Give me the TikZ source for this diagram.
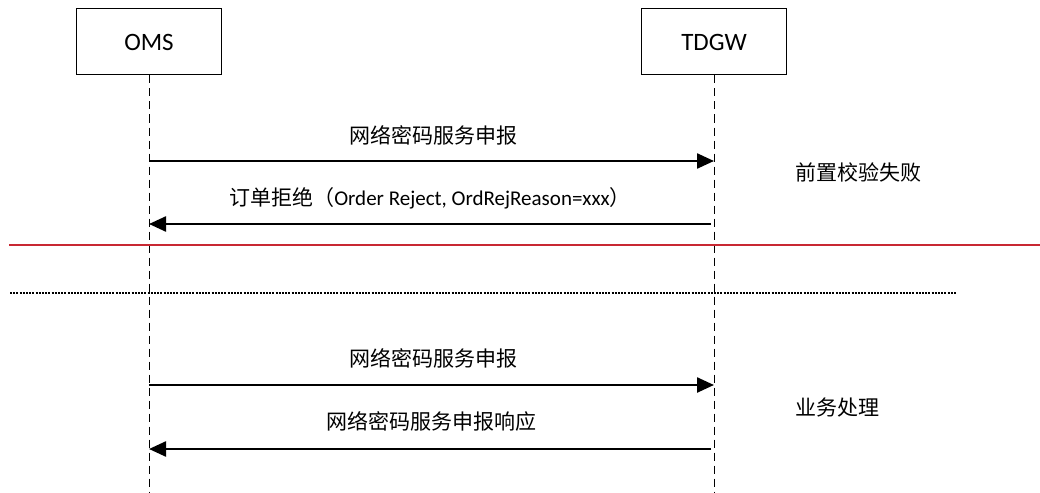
\documentclass[tikz,border=0pt]{standalone}
\usepackage{fontspec}
\setmainfont{Carlito}
\newfontfamily\cjk{Noto Sans CJK SC}
\usetikzlibrary{arrows.meta}
\begin{document}
\begin{tikzpicture}[x=1pt,y=-1pt,
  actor/.style={draw=black,line width=1pt,minimum width=145pt,minimum height=66pt,inner sep=0pt,font=\fontsize{25}{28}\selectfont},
  lifeline/.style={line width=0.9pt,dash pattern=on 8pt off 5pt},
  msg/.style={line width=2.4pt,-{Triangle[length=17pt,width=15pt]}},
  lbl/.style={inner sep=0pt,font=\fontsize{21}{24}\selectfont},
  note/.style={inner sep=0pt,anchor=west,font=\fontsize{21}{24}\selectfont\cjk}
]
\useasboundingbox (0,0) rectangle (1040,492);
\node[actor] (oms) at (149,42) {OMS};
\node[actor] (tdgw) at (714,42) {TDGW};
\coordinate (omsb) at (149,492);
\coordinate (tdgwb) at (714,492);
\draw[lifeline] (oms.south) -- (omsb);
\draw[lifeline] (tdgw.south) -- (tdgwb);

\coordinate (a1s) at (149,161);
\coordinate (a1e) at (714,161);
\coordinate (a2s) at (711,224);
\coordinate (a2e) at (149,224);
\coordinate (a3s) at (149,385);
\coordinate (a3e) at (714,385);
\coordinate (a4s) at (711,449);
\coordinate (a4e) at (149,449);
\draw[msg] (a1s) -- (a1e);
\draw[msg] (a2s) -- (a2e);
\draw[msg] (a3s) -- (a3e);
\draw[msg] (a4s) -- (a4e);

\node[lbl] (l1) at (433,135) {\cjk 网络密码服务申报};
\node[lbl] (l2) at (430,198) {{\cjk 订单拒绝（}Order Reject, OrdRejReason=xxx{\cjk ）}};
\node[lbl] (l3) at (433,358) {\cjk 网络密码服务申报};
\node[lbl] (l4) at (431,421) {\cjk 网络密码服务申报响应};

\node[note] (n1) at (795,172) {前置校验失败};
\node[note] (n2) at (795,408) {业务处理};

\coordinate (r1) at (9,245);
\coordinate (r2) at (1040,245);
\draw[line width=1.6pt,draw={rgb,255:red,200;green,40;blue,50}] (r1) -- (r2);
\coordinate (d1) at (10,293);
\coordinate (d2) at (956,293);
\draw[line width=2pt,dash pattern=on 2pt off 1.2pt] (d1) -- (d2);
\end{tikzpicture}
\end{document}
